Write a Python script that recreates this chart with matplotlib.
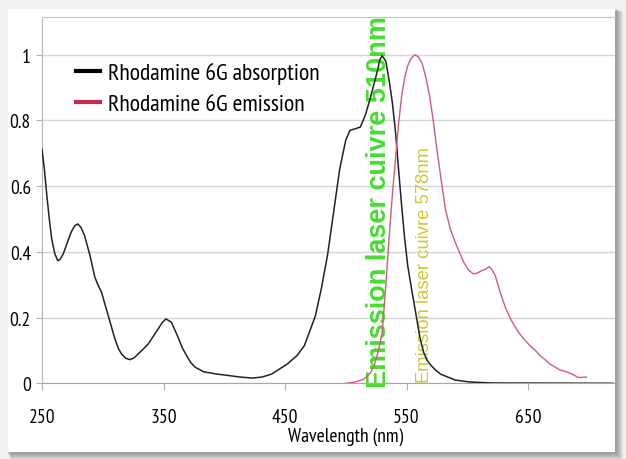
import matplotlib.pyplot as plt
from matplotlib.lines import Line2D
from matplotlib.patches import Rectangle

# absorption spectrum (nm, normalised)
abs_nm = [250, 252, 254, 256, 258, 260.5, 263, 265, 267.5, 271, 274, 277, 279.5, 282, 285, 289.5,
          293.5, 296, 299, 304.5, 310, 313, 315.5, 319, 322.5, 326, 329, 333, 337.5, 345.5, 349, 352,
          356.5, 362, 365.5, 369, 372.5, 376, 383, 394, 405, 413, 423, 431, 439, 452, 460, 466, 475,
          480, 485, 490, 495, 500, 503.5, 508, 512, 516, 520, 526, 528, 530, 533, 536, 538.5, 541,
          543.5, 546, 548.5, 551, 554.5, 558, 561, 564, 567, 570, 574, 578, 590, 602, 620, 720]
abs_val = [0.713, 0.65, 0.571, 0.5, 0.439, 0.395, 0.373, 0.378, 0.394, 0.43, 0.46, 0.48, 0.485, 0.475,
           0.45, 0.389, 0.323, 0.3, 0.277, 0.206, 0.135, 0.105, 0.089, 0.076, 0.072, 0.078, 0.089, 0.103,
           0.12, 0.165, 0.185, 0.196, 0.186, 0.14, 0.108, 0.084, 0.063, 0.049, 0.035, 0.028, 0.023,
           0.019, 0.016, 0.019, 0.028, 0.059, 0.085, 0.115, 0.205, 0.29, 0.39, 0.52, 0.652, 0.74, 0.77,
           0.775, 0.78, 0.815, 0.865, 0.95, 0.985, 0.997, 0.98, 0.915, 0.85, 0.763, 0.65, 0.54, 0.44,
           0.358, 0.28, 0.205, 0.14, 0.095, 0.07, 0.055, 0.04, 0.028, 0.01, 0.004, 0.001, 0.0]

# emission spectrum
em_nm = [500, 508, 515, 520, 523, 527, 530, 533, 536, 538.5, 541, 543.5, 546, 548.5, 551, 554, 557,
         560, 563, 566, 569, 572, 575, 578.5, 582, 586, 590, 593.5, 597, 601, 605, 608.5, 612, 615,
         618, 620.5, 623, 628, 632, 636.5, 642, 646.5, 651.5, 656, 660, 664, 668, 672, 676, 680,
         684.5, 688, 691, 694.5, 698]
em_val = [0.0, 0.004, 0.013, 0.03, 0.05, 0.1, 0.155, 0.3, 0.46, 0.58, 0.685, 0.79, 0.875, 0.93, 0.967,
          0.99, 1.0, 0.993, 0.972, 0.93, 0.875, 0.8, 0.713, 0.62, 0.53, 0.47, 0.43, 0.4, 0.369, 0.345,
          0.333, 0.336, 0.343, 0.347, 0.355, 0.345, 0.328, 0.267, 0.225, 0.19, 0.156, 0.135, 0.115, 0.1,
          0.084, 0.072, 0.059, 0.05, 0.041, 0.037, 0.031, 0.025, 0.018, 0.018, 0.019]

labels = ["Rhodamine 6G absorption", "Rhodamine 6G emission"]
xticks = [250, 350, 450, 550, 650]
yticks = [0, 0.2, 0.4, 0.6, 0.8, 1]
ytick_labels = ["0", "0.2", "0.4", "0.6", "0.8", "1"]
laser_nm = [527, 565]
laser_text = ["Emission laser cuivre 510nm", "Emission laser cuivre 578nm"]

W, H = 626, 460
narrow = ['PT Sans Narrow', 'Archivo Narrow', 'Liberation Sans Narrow', 'DejaVu Sans']
arial = ['Liberation Sans', 'Arial', 'DejaVu Sans']
plt.rcParams['font.family'] = narrow
plt.rcParams['font.weight'] = 500

fig = plt.figure(figsize=(W / 100, H / 100), dpi=100, facecolor='#f0f0f0')


def px(x0, y0, x1, y1):
    return (x0 / W, 1 - y1 / H, (x1 - x0) / W, (y1 - y0) / H)


# card with a soft shadow
for i in range(7, 0, -1):
    l, b, w, h = px(8 - 1 + i * 0.5, 10 - 1 + i * 0.5, 615 + 1 + i, 453 + 1 + i)
    fig.patches.append(Rectangle((l, b), w, h, transform=fig.transFigure,
                                 facecolor='#303030', alpha=0.07, edgecolor='none', zorder=-3))
l, b, w, h = px(8, 10, 615, 453)
fig.patches.append(Rectangle((l, b), w, h, transform=fig.transFigure,
                             facecolor='white', edgecolor='none', zorder=-2))

ax = fig.add_axes(px(42, 18.3, 615, 384.3))
ax.set_facecolor('white')
ax.set_xlim(250, 721.6)
ax.set_ylim(0, 1.114)

ax.set_yticks(yticks, labels=ytick_labels)
ax.set_xticks(xticks)
ax.yaxis.grid(True, color='#d6d6d6', lw=1)
ax.set_axisbelow(True)
ax.tick_params(axis='y', length=4, color='#b0b0b0', pad=4, labelsize=14)
ax.tick_params(axis='x', length=5, color='#b0b0b0', pad=13, labelsize=14)
ax.spines['right'].set_visible(False)
ax.spines['top'].set_color('#c4c4c4')
ax.spines['left'].set_color('#b4b4b4')
ax.spines['bottom'].set_color('#a8a8a8')

ax.text(laser_nm[0], -0.011, laser_text[0], rotation=90, ha='center', va='bottom',
        fontsize=19.5, fontweight='bold', color='#44dd2e', family=arial, zorder=1)
ax.text(laser_nm[1], 0.004, laser_text[1], rotation=90, ha='center', va='bottom',
        fontsize=13.3, color='#cfc935', family=arial, zorder=1)

ax.plot(abs_nm, abs_val, color='#222222', lw=1.1, zorder=3)
ax.plot(em_nm, em_val, color='#d45a78', lw=1.0, zorder=3)

handles = [Line2D([], [], color='black', lw=3), Line2D([], [], color='#c8284a', lw=3)]
ax.legend(handles, labels, loc='upper left', bbox_to_anchor=(76 / W, 1 - 63 / H),
          bbox_transform=fig.transFigure, frameon=False, fontsize=17, borderpad=0,
          borderaxespad=0, handlelength=1.0, handletextpad=0.35, labelspacing=0.4)

fig.text(346 / W, 1 - 437 / H, "Wavelength (nm)", ha='center', va='center', fontsize=14)

fig.savefig('out.png', dpi=100, facecolor=fig.get_facecolor())
